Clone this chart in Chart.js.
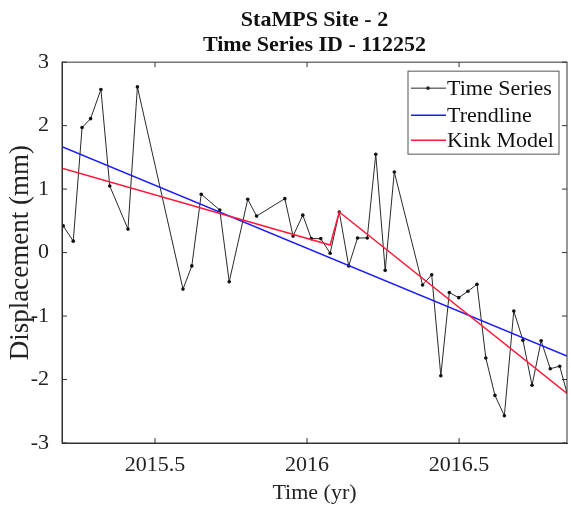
<!DOCTYPE html>
<html>
<head>
<meta charset="utf-8">
<script src="https://cdn.jsdelivr.net/npm/chart.js@4/dist/chart.umd.min.js"></script>
<style>
  html, body { margin: 0; padding: 0; background: #fff; }
  #wrap { width: 571px; height: 506px; }
</style>
</head>
<body>
<div id="wrap"><canvas id="chart" width="571" height="506"></canvas></div>
<script>
// time series (decimal year, mm)
const seriesTime = [2015.198, 2015.231, 2015.260, 2015.288, 2015.322, 2015.351, 2015.411, 2015.442,
    2015.592, 2015.621, 2015.652, 2015.713, 2015.744, 2015.805, 2015.834, 2015.927, 2015.954, 2015.986,
    2016.014, 2016.045, 2016.076, 2016.106, 2016.137, 2016.166, 2016.198, 2016.226, 2016.257, 2016.287,
    2016.380, 2016.410, 2016.440, 2016.468, 2016.499, 2016.529, 2016.559, 2016.588, 2016.618, 2016.649,
    2016.680, 2016.710, 2016.740, 2016.770, 2016.800, 2016.831, 2016.860];
const seriesDisp = [0.42, 0.18, 1.97, 2.11, 2.57, 1.05, 0.37, 2.61,
    -0.575, -0.21, 0.92, 0.67, -0.46, 0.84, 0.575, 0.85, 0.26, 0.59,
    0.22, 0.22, -0.01, 0.64, -0.21, 0.23, 0.23, 1.55, -0.28, 1.27,
    -0.51, -0.35, -1.94, -0.63, -0.71, -0.61, -0.50, -1.66, -2.25, -2.57,
    -0.92, -1.38, -2.09, -1.39, -1.83, -1.79, -2.30];

// linear trend
const trendTime = [2015.194, 2016.855];
const trendDisp = [1.67, -1.63];

// kink model (two segments)
const kinkTime = [2015.194, 2016.076, 2016.106, 2016.855];
const kinkDisp = [1.33, 0.12, 0.64, -2.22];

const xTicks = [2015.5, 2016, 2016.5];
const xTickLabels = ['2015.5', '2016', '2016.5'];
const xMin = 2015.194, xMax = 2016.855;
const yMin = -3, yMax = 3;

const serif = "'Liberation Serif', 'Times New Roman', serif";
Chart.defaults.font.family = serif;
Chart.defaults.color = '#222';

const toXY = (xs, ys) => xs.map((x, i) => ({ x: x, y: ys[i] }));

// box around plot + inward ticks (MATLAB style)
const boxPlugin = {
    id: 'box',
    afterDatasetsDraw(chart) {
        const { ctx, chartArea: a, scales } = chart;
        ctx.save();
        ctx.strokeStyle = '#333';
        ctx.lineWidth = 1;
        ctx.strokeRect(a.left, a.top, a.right - a.left, a.bottom - a.top);
        const tl = 5;
        ctx.beginPath();
        xTicks.forEach(v => {
            const px = scales.x.getPixelForValue(v);
            ctx.moveTo(px, a.bottom); ctx.lineTo(px, a.bottom - tl);
            ctx.moveTo(px, a.top); ctx.lineTo(px, a.top + tl);
        });
        for (let v = yMin; v <= yMax; v++) {
            const py = scales.y.getPixelForValue(v);
            ctx.moveTo(a.left, py); ctx.lineTo(a.left + tl, py);
            ctx.moveTo(a.right, py); ctx.lineTo(a.right - tl, py);
        }
        ctx.stroke();
        ctx.restore();
    }
};

// legend box inside the plot, top right
const legendPlugin = {
    id: 'innerLegend',
    afterDraw(chart) {
        const { ctx, chartArea: a } = chart;
        const w = 151, h = 83;
        const left = a.right - 8 - w, top = a.top + 9;
        ctx.save();
        ctx.fillStyle = '#fff';
        ctx.fillRect(left, top, w, h);
        ctx.strokeStyle = '#555';
        ctx.lineWidth = 1;
        ctx.strokeRect(left, top, w, h);
        const rows = [17, 44, 69];
        ctx.font = '22px ' + serif;
        ctx.textBaseline = 'middle';
        chart.data.datasets.forEach((ds, i) => {
            const y = top + rows[i];
            ctx.strokeStyle = ds.borderColor;
            ctx.lineWidth = ds.borderWidth;
            ctx.beginPath();
            ctx.moveTo(left + 3, y);
            ctx.lineTo(left + 38, y);
            ctx.stroke();
            if (ds.pointRadius > 0) {
                ctx.fillStyle = ds.borderColor;
                ctx.beginPath();
                ctx.arc(left + 20, y, 1.8, 0, Math.PI * 2);
                ctx.fill();
            }
            ctx.fillStyle = '#111';
            ctx.fillText(ds.label, left + 39, y + 1);
        });
        ctx.restore();
    }
};

new Chart(document.getElementById('chart'), {
    type: 'line',
    data: {
        datasets: [
            {
                label: 'Time Series',
                data: toXY(seriesTime, seriesDisp),
                borderColor: '#2a2a2a',
                backgroundColor: '#111',
                borderWidth: 1,
                pointRadius: 1.8,
                pointBorderWidth: 0,
                tension: 0,
                order: 3
            },
            {
                label: 'Trendline',
                data: toXY(trendTime, trendDisp),
                borderColor: '#1a1aff',
                borderWidth: 1.5,
                pointRadius: 0,
                order: 2
            },
            {
                label: 'Kink Model',
                data: toXY(kinkTime, kinkDisp),
                borderColor: '#ff1a3a',
                borderWidth: 1.5,
                pointRadius: 0,
                order: 1
            }
        ]
    },
    options: {
        responsive: false,
        animation: false,
        layout: { padding: { left: 0, right: -2, top: 0, bottom: 0 } },
        plugins: {
            legend: { display: false },
            tooltip: { enabled: false },
            title: {
                display: true,
                fullSize: false,
                text: ['StaMPS Site - 2', 'Time Series ID - 112252'],
                font: { size: 22, weight: 'bold', lineHeight: 1.14 },
                color: '#111',
                padding: { top: 8, bottom: 4 }
            }
        },
        scales: {
            x: {
                type: 'linear',
                min: xMin,
                max: xMax,
                afterBuildTicks: s => { s.ticks = xTicks.map(v => ({ value: v })); },
                afterFit: s => { s.height = 63; },
                grid: { display: false, drawTicks: false },
                border: { display: true, color: '#333' },
                ticks: {
                    font: { size: 22 }, padding: 9, color: '#222', maxRotation: 0,
                    callback: v => xTickLabels[xTicks.indexOf(v)]
                },
                title: { display: true, text: 'Time (yr)', font: { size: 22 }, color: '#222', padding: { top: 0, bottom: 0 } }
            },
            y: {
                min: yMin,
                max: yMax,
                afterFit: s => { s.width = 62; },
                grid: { display: false, drawTicks: false },
                border: { display: true, color: '#333' },
                ticks: { stepSize: 1, font: { size: 22 }, padding: 13, color: '#222' },
                title: { display: true, text: 'Displacement (mm)', font: { size: 27 }, color: '#222', padding: { top: 5, bottom: 0 } }
            }
        }
    },
    plugins: [boxPlugin, legendPlugin]
});
</script>
</body>
</html>
